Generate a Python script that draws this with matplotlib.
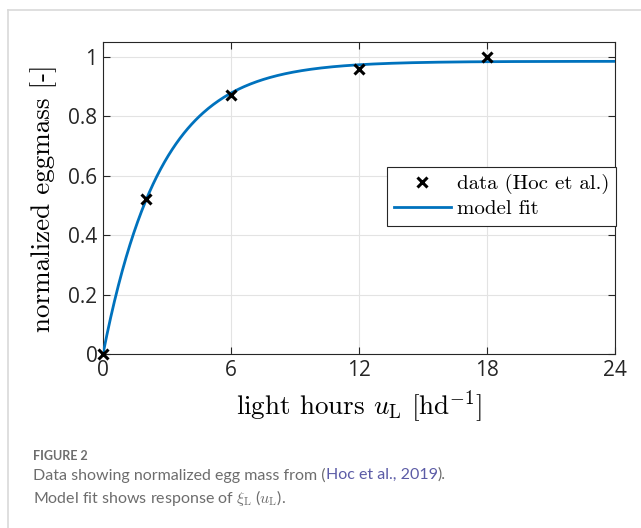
import numpy as np
import matplotlib.pyplot as plt
from matplotlib.lines import Line2D

# data
hours = [0, 2, 6, 12, 18]
eggmass = [0.0, 0.52, 0.87, 0.96, 1.0]

# model fit: xi_L(u) = a * (1 - exp(-k u))
fit_a = 0.985
fit_k = 0.37
u = np.linspace(0, 24, 400)
fit = fit_a * (1 - np.exp(-fit_k * u))

xticks = [0, 6, 12, 18, 24]
yticks = [0, 0.2, 0.4, 0.6, 0.8, 1]
ytick_labels = ['0', '0.2', '0.4', '0.6', '0.8', '1']

plt.rcParams['mathtext.fontset'] = 'cm'
plt.rcParams['axes.unicode_minus'] = False

fig = plt.figure(figsize=(6.41, 5.28), dpi=100)
ax = fig.add_axes([103 / 641, 1 - 354 / 528, 512 / 641, 312 / 528])

ax.plot(u, fit, color='#0072BD', lw=2, zorder=3)
ax.plot(hours, eggmass, 'x', color='black', ms=7, mew=2.2, zorder=4, clip_on=False)

ax.set_xlim(0, 24)
ax.set_ylim(0, 1.05)
ax.set_xticks(xticks)
ax.set_yticks(yticks)
ax.set_yticklabels(ytick_labels)
ax.grid(True, color='#e3e3e3', lw=0.8)
ax.set_axisbelow(True)
ax.tick_params(direction='in', top=True, right=True, length=5, width=0.8,
               labelsize=15, colors='#262626', pad=4)
for lab in ax.get_xticklabels() + ax.get_yticklabels():
    lab.set_fontfamily('Open Sans')
for s in ax.spines.values():
    s.set_color('#262626')
    s.set_linewidth(0.8)

ax.set_xlabel(r'light hours $u_{\mathrm{L}}$ [hd$^{-1}$]', fontsize=19.5,
              fontfamily='cmr10', labelpad=6)
ax.set_ylabel('normalized eggmass [-]', fontsize=19.5, fontfamily='cmr10', labelpad=8)

handles = [Line2D([], [], ls='none', marker='x', color='black', ms=6.5, mew=2.2),
           Line2D([], [], color='#0072BD', lw=2)]
leg = ax.legend(handles, ['data (Hoc et al.)', 'model fit'], loc='upper left',
                bbox_to_anchor=((387 - 103) / 512, (354 - 167) / 312),
                prop={'family': 'cmr10', 'size': 15}, frameon=True, fancybox=False,
                edgecolor='#262626', framealpha=1, handlelength=2.7,
                handletextpad=0.3, borderpad=0.35, labelspacing=0.25, borderaxespad=0)
leg.get_frame().set_linewidth(0.8)

# card border
fig.add_artist(Line2D([8 / 641, 8 / 641], [0, 1 - 10 / 528], color='#d9d9d9', lw=1.2))
fig.add_artist(Line2D([8 / 641, 1], [1 - 10 / 528, 1 - 10 / 528], color='#d9d9d9', lw=1.2))

# caption
cap = '#6d6d6d'
x0 = 33 / 641
fig.text(x0, 1 - 456 / 528, 'FIGURE 2', fontsize=9, color=cap,
         fontfamily='Lato', fontweight='bold', va='center')
t1 = fig.text(x0, 1 - 475 / 528, 'Data showing normalized egg mass from (',
              fontsize=11.5, color=cap, fontfamily='Lato', va='center')
fig.canvas.draw()
r = fig.canvas.get_renderer()
bb = t1.get_window_extent(r)
t2 = fig.text(bb.x1 / fig.bbox.width, 1 - 475 / 528, 'Hoc et al., 2019',
              fontsize=11.5, color='#5b5ba6', fontfamily='Lato', va='center')
bb2 = t2.get_window_extent(r)
fig.text(bb2.x1 / fig.bbox.width, 1 - 475 / 528, ').', fontsize=11.5, color=cap,
         fontfamily='Lato', va='center')
fig.text(x0, 1 - 498 / 528, r'Model fit shows response of $\xi_{\mathrm{L}}$ ($u_{\mathrm{L}}$).',
         fontsize=11.5, color=cap, fontfamily='Lato', va='center')

fig.savefig('out.png', dpi=100)
